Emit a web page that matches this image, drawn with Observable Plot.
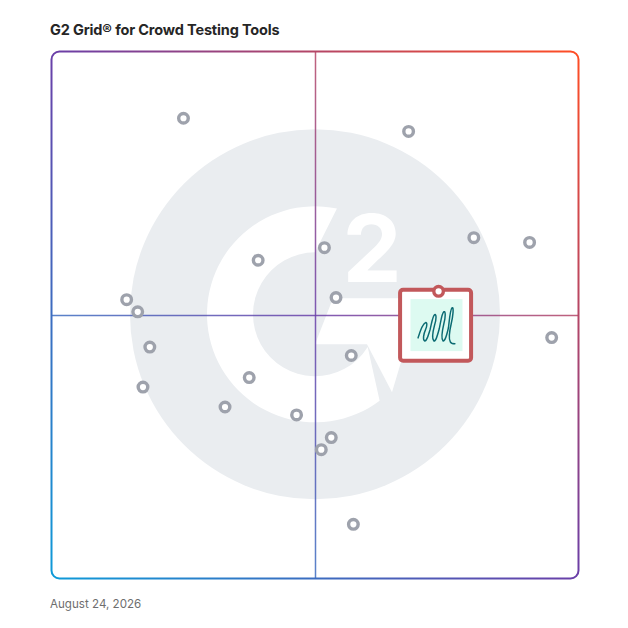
<!DOCTYPE html>
<html><head><meta charset="utf-8">
<script src="https://cdn.jsdelivr.net/npm/d3@7"></script>
<script src="https://cdn.jsdelivr.net/npm/@observablehq/plot@0.6"></script>
<style>
body{margin:0;background:#fff;}
#wrap{position:relative;width:628px;height:628px;font-family:Inter,"Noto Sans",sans-serif;}
#chart{position:absolute;left:0;top:0;}
#title{position:absolute;left:50px;top:21px;font-size:14.5px;font-weight:650;color:#262626;line-height:18px;letter-spacing:-0.15px;}
#date{position:absolute;left:50px;top:597px;font-size:11.6px;color:#6e6e6e;line-height:15px;}
</style></head><body>
<div id="wrap"><div id="chart"></div><div id="title">G2 Grid® for Crowd Testing Tools</div><div id="date">August 24, 2026</div></div>
<script>
// Market presence (y) vs satisfaction (x), 0-100 scale
const productX = [24.9, 67.7, 80.1, 90.7, 39.1, 51.7, 53.9, 14.1, 16.2, 18.5, 17.2, 37.4, 32.8, 46.4, 56.8, 94.9, 53.0, 51.1, 57.2];
const productY = [87.5, 85.0, 64.8, 63.9, 60.5, 62.9, 53.4, 53.0, 50.7, 44.0, 36.4, 38.2, 32.6, 31.1, 42.4, 45.8, 26.8, 24.5, 10.3];
const featuredX = [73.4];
const featuredY = [54.6];
const midX = [50];
const midY = [50];

const products = productX.map((x, i) => ({x, y: productY[i]}));
const featured = featuredX.map((x, i) => ({x, y: featuredY[i]}));
const frameBox = [{x1: 0, x2: 100, y1: 0, y2: 100}];

function gradientDefs(index, {x, y}) {
  const g = d3.create("svg:g");
  const lg = g.append("defs").append("linearGradient")
    .attr("id", "g2grad").attr("gradientUnits", "userSpaceOnUse")
    .attr("x1", x(0)).attr("y1", y(0)).attr("x2", x(100)).attr("y2", y(100));
  lg.append("stop").attr("offset", 0).attr("stop-color", "#0e9ad8");
  lg.append("stop").attr("offset", 0.5).attr("stop-color", "#6a3fa8");
  lg.append("stop").attr("offset", 1).attr("stop-color", "#ff4d24");
  return g.node();
}

function watermark(index, {x, y}) {
  const cx = x(50), cy = y(50) - 0.7;
  const k = (x(100) - x(0)) / 526;
  const g = d3.create("svg:g");
  const pt = (r, a) => [cx + r * k * Math.cos(a), cy + r * k * Math.sin(a)];
  g.append("circle").attr("cx", cx).attr("cy", cy).attr("r", 185 * k).attr("fill", "#eaedf0");
  const aA = Math.atan2(-106, 22), aB = Math.atan2(87, 65), aC = Math.atan2(31, 50);
  const A = pt(108, aA), B = pt(108, aB), C = pt(62, aC), D = pt(62, -Math.PI / 2);
  g.append("path").attr("fill", "white")
    .attr("d", `M${A}A${108*k},${108*k} 0 1 0 ${B}L${C}A${62*k},${62*k} 0 1 1 ${D}Z`);
  const W = [[18, -16], [105, -16], [77, 78], [52, 30], [0, 30]].map(([dx, dy]) => [cx + dx * k, cy + dy * k]);
  g.append("path").attr("fill", "white").attr("d", "M" + W.join("L") + "Z");
  g.append("text").attr("x", cx + 57 * k).attr("y", cy - 32 * k)
    .attr("text-anchor", "middle").attr("font-size", 94 * k).attr("font-weight", 700)
    .attr("font-family", "Inter, Roboto, sans-serif").attr("fill", "white").text("2");
  return g.node();
}

function featuredCard(index, {x, y}) {
  const g = d3.create("svg:g");
  featured.forEach(d => {
    const px = x(d.x), py = y(d.y);
    g.append("rect").attr("x", px - 38).attr("y", py - 1).attr("width", 71).attr("height", 71)
      .attr("rx", 3).attr("fill", "white").attr("stroke", "#c2585b").attr("stroke-width", 4);
    g.append("rect").attr("x", px - 27.6).attr("y", py + 8.3).attr("width", 52).attr("height", 52).attr("fill", "#ddfaf1");
    g.append("path").attr("transform", `translate(${px - 20},${py + 15}) scale(0.92,1)`)
      .attr("fill", "none").attr("stroke", "#0b6b73").attr("stroke-width", 1.6).attr("stroke-linecap", "round")
      .attr("d", "M0,32 C2,26 5,18 8,17 C10,16 10,20 8,24 C6,28 5,34 7,35 C9,36 11,30 13,24 C15,16 16,10 18,9 C20,8 20,13 18,19 C16,26 15,33 17,35 C19,36 21,30 23,23 C25,14 26,7 28,6 C30,5 30,11 28,18 C26,26 25,33 27,35 C29,36 31,30 33,22 C34,14 35,3 37,2 C39,1 38,10 36,18 C34,26 33,33 35,36 C36,38 38,38 40,38");
  });
  return g.node();
}

const chart = Plot.plot({
  width: 628,
  height: 628,
  marginLeft: 52,
  marginRight: 50,
  marginTop: 52,
  marginBottom: 50,
  x: {domain: [0, 100], axis: null},
  y: {domain: [0, 100], axis: null},
  marks: [
    gradientDefs,
    watermark,
    Plot.ruleX(midX, {x: d => d, y1: 0, y2: 100, stroke: "url(#g2grad)", strokeWidth: 1.5, strokeOpacity: 0.85}),
    Plot.ruleY(midY, {y: d => d, x1: 0, x2: 100, stroke: "url(#g2grad)", strokeWidth: 1.5, strokeOpacity: 0.85}),
    Plot.rect(frameBox, {x1: "x1", x2: "x2", y1: "y1", y2: "y2", inset: -0.5, rx: 8, fill: "none", stroke: "url(#g2grad)", strokeWidth: 2}),
    Plot.dot(products, {x: "x", y: "y", r: 4.8, fill: "white", stroke: "#9ea2ac", strokeWidth: 3.4}),
    featuredCard,
    Plot.dot(featured, {x: "x", y: "y", r: 4.8, fill: "white", stroke: "#c2585b", strokeWidth: 3.4})
  ]
});
document.getElementById("chart").appendChild(chart);
</script>
</body></html>
